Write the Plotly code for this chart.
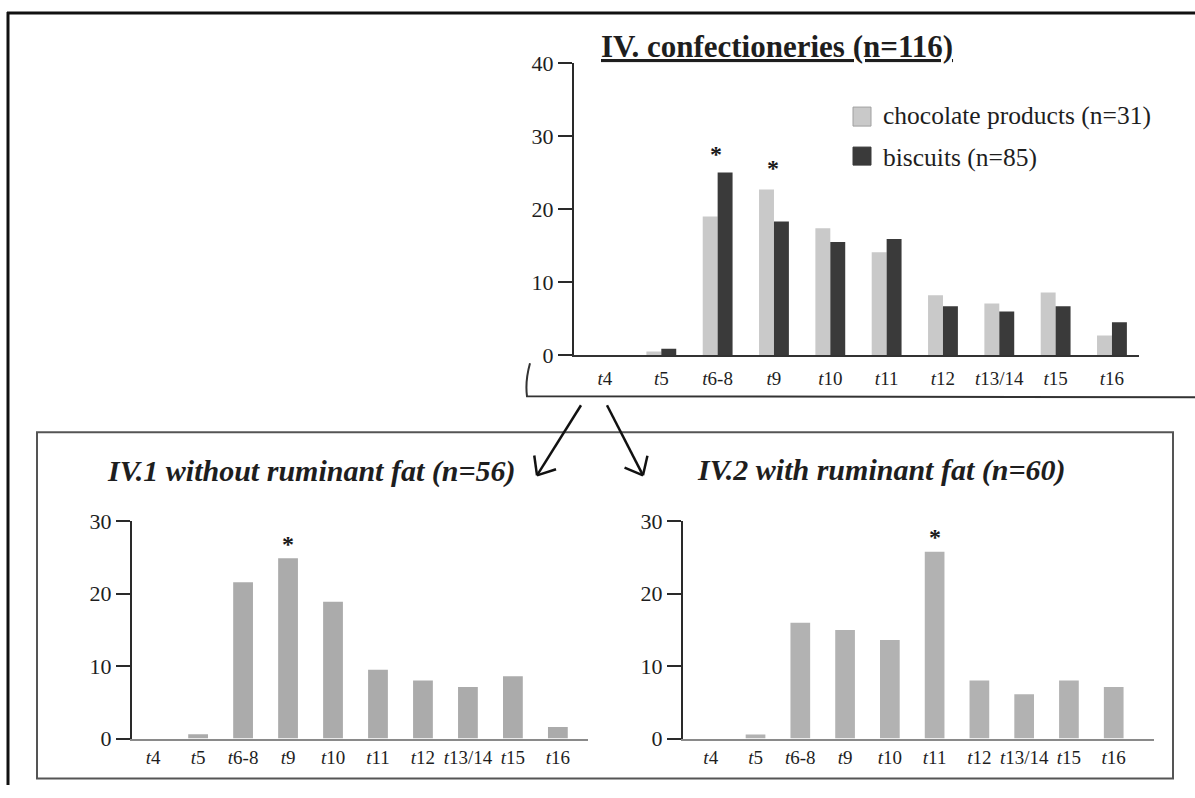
import math
import plotly.graph_objects as go

W, H = 1195, 798

# ---------------- data ----------------
CATEGORIES = ["t4", "t5", "t6-8", "t9", "t10", "t11", "t12", "t13/14", "t15", "t16"]
TICK_LABELS = ["<i>t</i>4", "<i>t</i>5", "<i>t</i>6-8", "<i>t</i>9", "<i>t</i>10",
               "<i>t</i>11", "<i>t</i>12", "<i>t</i>13/14", "<i>t</i>15", "<i>t</i>16"]
CHOCOLATE = [0, 0.5, 19.0, 22.7, 17.4, 14.1, 8.2, 7.1, 8.6, 2.7]
BISCUITS = [0, 0.9, 25.0, 18.3, 15.5, 15.9, 6.7, 6.0, 6.7, 4.5]
WITHOUT_RUMINANT = [0, 0.6, 21.6, 24.9, 18.9, 9.5, 8.0, 7.1, 8.6, 1.6]
WITH_RUMINANT = [0, 0.55, 16.0, 15.0, 13.6, 25.8, 8.0, 6.1, 8.0, 7.1]
TOP_Y_TICKS = [0, 10, 20, 30, 40]
SUB_Y_TICKS = [0, 10, 20, 30]
TOP_TITLE = "IV. confectioneries (n=116)"
LEFT_TITLE = "IV.1 without ruminant fat (n=56)"
RIGHT_TITLE = "IV.2 with ruminant fat (n=60)"
NAME_CHOC = "chocolate products (n=31)"
NAME_BISC = "biscuits (n=85)"

# ---------------- styling ----------------
SERIF = "Liberation Serif"
TXT = "#1e1e1e"
C_LIGHT = "#c9c9c9"
C_DARK = "#3a3a3a"
C_LEFT = "#ababab"
C_RIGHT = "#b2b2b2"

# vertical calibration of the photographed page
Y_OFF, Y_SCALE = 13.0, 0.968


def px(x):
    return x / W


def py(y):
    return 1 - ((y - Y_OFF) / Y_SCALE) / H


fig = go.Figure()
fig.add_trace(go.Bar(x=CATEGORIES, y=CHOCOLATE, name=NAME_CHOC, marker=dict(color=C_LIGHT, line_width=0),
                     offset=-0.265, width=0.265, xaxis="x", yaxis="y", showlegend=False))
fig.add_trace(go.Bar(x=CATEGORIES, y=BISCUITS, name=NAME_BISC, marker=dict(color=C_DARK, line_width=0),
                     offset=0.0, width=0.265, xaxis="x", yaxis="y", showlegend=False))
fig.add_trace(go.Bar(x=CATEGORIES, y=WITHOUT_RUMINANT, name=LEFT_TITLE, marker=dict(color=C_LEFT, line_width=0),
                     width=0.44, xaxis="x2", yaxis="y2", showlegend=False))
fig.add_trace(go.Bar(x=CATEGORIES, y=WITH_RUMINANT, name=RIGHT_TITLE, marker=dict(color=C_RIGHT, line_width=0),
                     width=0.44, xaxis="x3", yaxis="y3", showlegend=False))


def xaxis_style(domain, rng, anchor, linecolor, standoff):
    return dict(domain=domain, range=rng, anchor=anchor, type="category",
                categoryorder="array", categoryarray=CATEGORIES,
                tickvals=CATEGORIES, ticktext=TICK_LABELS, ticks="",
                showline=True, linecolor=linecolor, linewidth=2, showgrid=False,
                zeroline=False, ticklabelstandoff=standoff,
                tickfont=dict(family=SERIF, size=19, color=TXT), fixedrange=True)


def yaxis_style(domain, rng, anchor, tickvals):
    return dict(domain=domain, range=rng, anchor=anchor, tickvals=tickvals,
                ticks="outside", ticklen=14, tickwidth=2, tickcolor="#2a2a2a",
                showline=True, linecolor="#2a2a2a", linewidth=2, showgrid=False,
                zeroline=False, tickfont=dict(family=SERIF, size=22, color=TXT),
                fixedrange=True)


fig.update_layout(
    width=W, height=H, margin=dict(l=0, r=0, t=0, b=0),
    paper_bgcolor="white", plot_bgcolor="white", barmode="overlay",
    showlegend=False,
    xaxis=xaxis_style([px(574), px(1139)], [-0.55, 9.48], "y", "#333333", 5),
    yaxis=yaxis_style([py(356), py(64)], [0, 40], "x", TOP_Y_TICKS),
    xaxis2=xaxis_style([px(132), px(588)], [-0.47, 9.67], "y2", "#8a8a8a", 1),
    yaxis2=yaxis_style([py(739), py(522)], [0, 30], "x2", SUB_Y_TICKS),
    xaxis3=xaxis_style([px(683), px(1154)], [-0.62, 9.9], "y3", "#8a8a8a", 1),
    yaxis3=yaxis_style([py(739), py(522)], [0, 30], "x3", SUB_Y_TICKS),
)

annotations = []


def ptext(text, x, y, size, xanchor="center"):
    return dict(text=text, x=px(x), y=py(y), xref="paper", yref="paper", xanchor=xanchor,
                yanchor="middle", showarrow=False, font=dict(family=SERIF, size=size, color=TXT))


# titles
annotations.append(ptext("<b><u>" + TOP_TITLE + "</u></b>", 777, 47, 31))
annotations.append(ptext("<b><i>" + LEFT_TITLE + "</i></b>", 311, 472, 30))
annotations.append(ptext("<b><i>" + RIGHT_TITLE + "</i></b>", 882, 471, 30))
# legend texts
annotations.append(ptext(NAME_CHOC, 881, 116, 25.5, "left"))
annotations.append(ptext(NAME_BISC, 881, 158, 25.5, "left"))

# significance asterisks
STAR = dict(family=SERIF, size=24, color="#1a1a1a")
i68 = CATEGORIES.index("t6-8")
i9 = CATEGORIES.index("t9")
i11 = CATEGORIES.index("t11")
annotations.append(dict(text="<b>*</b>", x=CATEGORIES[i68], y=max(CHOCOLATE[i68], BISCUITS[i68]), xref="x", yref="y",
                        xanchor="center", yanchor="middle", xshift=-2, yshift=19, showarrow=False, font=STAR))
annotations.append(dict(text="<b>*</b>", x=CATEGORIES[i9], y=max(CHOCOLATE[i9], BISCUITS[i9]), xref="x", yref="y",
                        xanchor="center", yanchor="middle", xshift=-1, yshift=21, showarrow=False, font=STAR))
annotations.append(dict(text="<b>*</b>", x=CATEGORIES[i9], y=WITHOUT_RUMINANT[i9], xref="x2", yref="y2",
                        xanchor="center", yanchor="middle", yshift=14, showarrow=False, font=STAR))
annotations.append(dict(text="<b>*</b>", x=CATEGORIES[i11], y=WITH_RUMINANT[i11], xref="x3", yref="y3",
                        xanchor="center", yanchor="middle", yshift=15, showarrow=False, font=STAR))

shapes = []
LINE_DARK = dict(color="#111111", width=3)
# outer frame (top and left)
shapes.append(dict(type="line", xref="paper", yref="paper", x0=px(7), y0=py(14), x1=px(1195), y1=py(14), line=LINE_DARK))
shapes.append(dict(type="line", xref="paper", yref="paper", x0=px(8), y0=py(13), x1=px(8), y1=0, line=LINE_DARK))
# lower box
shapes.append(dict(type="rect", xref="paper", yref="paper", x0=px(37), y0=py(779), x1=px(1173), y1=py(433),
                   line=dict(color="#555555", width=2)))
# bracket under top chart
bracket = "M {},{} Q {},{} {},{} L {},{}".format(px(530), py(364), px(525), py(382), px(527), py(397),
                                                 px(1195), py(398))
shapes.append(dict(type="path", xref="paper", yref="paper", path=bracket, line=dict(color="#333333", width=2)))
# legend squares
shapes.append(dict(type="rect", xref="paper", yref="paper", x0=px(853), y0=py(127), x1=px(871), y1=py(108),
                   fillcolor=C_LIGHT, line=dict(color="#a0a0a0", width=1)))
shapes.append(dict(type="rect", xref="paper", yref="paper", x0=px(853), y0=py(166), x1=px(871), y1=py(148),
                   fillcolor=C_DARK, line=dict(color=C_DARK, width=1)))


def arrow(x0, y0, x1, y1, head=20, ang=40):
    out = [dict(type="line", xref="paper", yref="paper", x0=px(x0), y0=py(y0), x1=px(x1), y1=py(y1),
                line=dict(color="#111111", width=2.5))]
    bx, by = x0 - x1, y0 - y1
    n = math.hypot(bx, by)
    bx, by = bx / n, by / n
    for s in (-1, 1):
        a = math.radians(ang * s)
        hx = bx * math.cos(a) - by * math.sin(a)
        hy = bx * math.sin(a) + by * math.cos(a)
        out.append(dict(type="line", xref="paper", yref="paper", x0=px(x1), y0=py(y1),
                        x1=px(x1 + hx * head), y1=py(y1 + hy * head), line=dict(color="#111111", width=2.5)))
    return out


shapes += arrow(581, 406, 537, 476)
shapes += arrow(607, 406, 643, 476)

fig.update_layout(annotations=annotations, shapes=shapes)
fig.write_html("out.html", config={"displayModeBar": False},
               post_script="document.body.style.margin='0';")
